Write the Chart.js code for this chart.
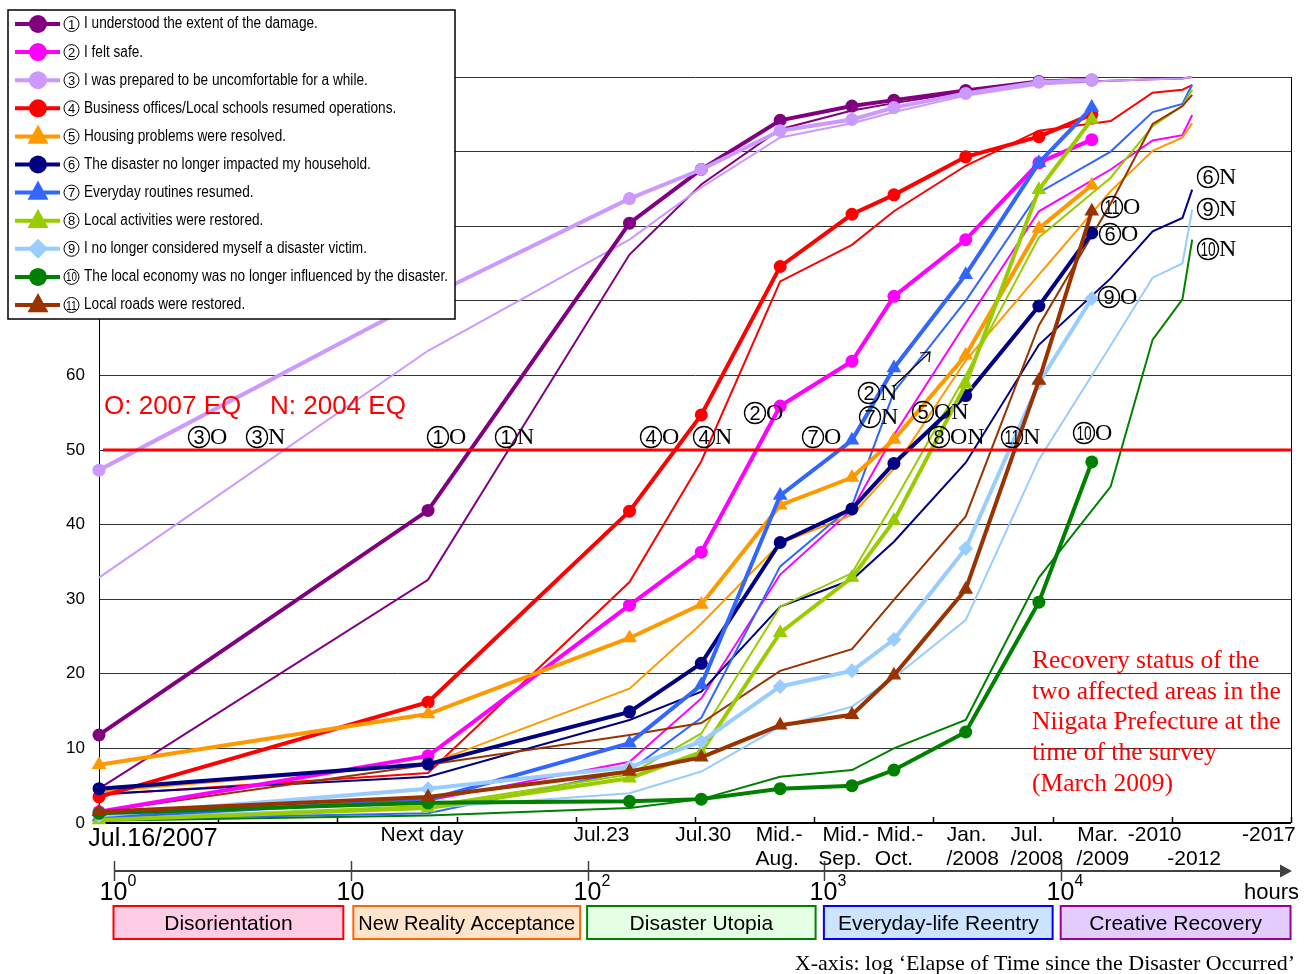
<!DOCTYPE html>
<html><head><meta charset="utf-8">
<script src="https://cdn.jsdelivr.net/npm/chart.js@4.4.1/dist/chart.umd.min.js"></script>
<style>html,body{margin:0;padding:0;background:#fff;}#wrap{width:1310px;height:974px;position:relative;}</style>
</head><body><div id="wrap"><canvas id="c" width="1310" height="974"></canvas></div>
<script>
// ---- time points (hours since the disaster) ----
const hoursO = [1, 24, 168, 336, 720, 1440, 2160, 4320, 8760, 14600];
const hoursN = [1, 24, 168, 336, 720, 1440, 2160, 4320, 8760, 17520, 26280, 35040, 38500];

// ---- items ----
const itemNums = [1,2,3,4,5,6,7,8,9,10,11];
const itemNames = [
  'I understood the extent of the damage.',
  'I felt safe.',
  'I was prepared to be uncomfortable for a while.',
  'Business offices/Local schools resumed operations.',
  'Housing problems were resolved.',
  'The disaster no longer impacted my household.',
  'Everyday routines resumed.',
  'Local activities were restored.',
  'I no longer considered myself a disaster victim.',
  'The local economy was no longer influenced by the disaster.',
  'Local roads were restored.'
];

// ---- O: 2007 EQ (%), N: 2004 EQ (%) ----
const item1O  = [11.8, 41.9, 80.4, 87.6, 94.2, 96.1, 96.9, 98.2, 99.4, 99.6];
const item1N  = [4.6, 32.6, 76.2, 85.6, 93.0, 95.5, 96.5, 98.0, 99.2, 99.5, 99.7, 99.8, 100];
const item2O  = [1.5, 9.0, 29.2, 36.3, 55.9, 61.9, 70.6, 78.2, 88.5, 91.6];
const item2N  = [1.0, 3.0, 8.2, 16.7, 33.3, 42.0, 52.0, 67.0, 82.0, 87.6, 91.5, 92.2, 94.9];
const item3O  = [47.3, 70.5, 83.7, 87.6, 92.8, 94.3, 95.9, 97.8, 99.3, 99.6];
const item3N  = [32.9, 63.3, 78.2, 85.2, 91.9, 93.8, 95.3, 97.5, 99.0, 99.5, 99.7, 99.8, 100];
const item4O  = [3.5, 16.2, 41.8, 54.7, 74.6, 81.6, 84.2, 89.3, 92.0, 95.0];
const item4N  = [3.8, 6.7, 32.3, 48.5, 72.6, 77.5, 82.0, 88.1, 92.8, 94.1, 97.9, 98.3, 98.9];
const item5O  = [7.8, 14.6, 24.8, 29.3, 42.6, 46.3, 51.4, 62.7, 79.7, 85.5];
const item5N  = [4.2, 7.9, 18.0, 26.7, 37.5, 41.3, 47.5, 62.0, 73.5, 84.7, 90.1, 91.9, 93.8];
const item6O  = [4.6, 7.9, 14.9, 21.4, 37.6, 42.1, 48.2, 57.3, 69.3, 79.1];
const item6N  = [3.9, 6.2, 13.8, 17.6, 29.0, 32.6, 37.7, 48.3, 64.1, 73.0, 79.3, 81.1, 84.9];
const item7O  = [0.8, 3.1, 10.7, 18.5, 43.9, 51.3, 61.0, 73.5, 88.5, 95.9];
const item7N  = [0.5, 1.3, 7.0, 14.1, 34.4, 42.5, 57.8, 70.0, 84.5, 90.0, 95.3, 96.4, 99.0];
const item8O  = [0.4, 2.0, 6.0, 9.5, 25.5, 32.9, 40.5, 58.8, 84.9, 94.3];
const item8N  = [0.5, 2.3, 6.5, 12.0, 29.0, 33.5, 43.0, 60.0, 78.5, 86.5, 93.4, 96.1, 98.3];
const item9O  = [1.0, 4.6, 7.5, 10.9, 18.3, 20.4, 24.6, 36.8, 59.0, 70.3];
const item9N  = [0.8, 2.0, 4.0, 6.9, 12.9, 15.6, 19.5, 27.2, 48.7, 64.0, 73.1, 75.0, 82.2];
const item10O = [1.3, 2.7, 2.9, 3.2, 4.6, 5.0, 7.1, 12.2, 29.6, 48.4];
const item10N = [0.3, 1.0, 2.0, 3.2, 6.2, 7.1, 10.0, 13.8, 32.9, 45.1, 64.8, 70.2, 78.2];
const item11O = [1.5, 3.5, 6.9, 8.8, 13.1, 14.5, 19.8, 31.3, 59.3, 82.0];
const item11N = [1.5, 7.8, 11.8, 13.4, 20.4, 23.3, 29.9, 41.1, 66.7, 83.0, 93.7, 96.1, 97.6];

// ---- axis / label texts ----
const yTickStep = 10;
const dateLabels = [['Jul.16/2007'],['Next day'],['Jul.23'],['Jul.30'],['Mid.-','Aug.'],['Mid.-','Sep.'],['Mid.-','Oct.'],['Jan.','/2008'],['Jul.','/2008'],['Mar.','/2009'],['-2010'],['','-2012'],['-2017']];
const dateLabelHours = [1, 24, 168, 336, 720, 1440, 2160, 4320, 8760, 14600, 26280, 38500, 80000];
const logTickValues = [1, 10, 100, 1000, 10000];
const logTickExp = ['0', '', '2', '3', '4'];
const phaseNames = ['Disorientation','New Reality Acceptance','Disaster Utopia','Everyday-life Reentry','Creative Recovery'];
const phaseHours = [[1, 9.3], [10.3, 93], [100, 918], [1000, 9200], [10000, 93000]];

// ---- styles ----
const colors = ['#800080','#ff00ff','#cc99ff','#ff0000','#ff9900','#000080','#3366ff','#99cc00','#99ccff','#008000','#993300'];
const marks  = ['circle','circle','circle','circle','triangle','circle','triangle','triangle','rectRot','circle','triangle'];
const phaseFill = ['#ffcce5','#ffe4cc','#e5ffe5','#cce4ff','#e5ccff'];
const phaseLine = ['#ff0000','#ff6600','#008000','#0000ff','#990099'];

const seriesO = [item1O,item2O,item3O,item4O,item5O,item6O,item7O,item8O,item9O,item10O,item11O];
const seriesN = [item1N,item2N,item3N,item4N,item5N,item6N,item7N,item8N,item9N,item10N,item11N];

const datasets = [];
for (let i = 10; i >= 0; i--) {
  const r = marks[i] === 'circle' ? 6.5 : (marks[i] === 'triangle' ? 8.5 : 7.5);
  datasets.push({
    label: itemNums[i] + 'O', data: hoursO.map((h, j) => ({x: h, y: seriesO[i][j]})),
    borderColor: colors[i], backgroundColor: colors[i], borderWidth: 4,
    pointStyle: marks[i], pointRadius: r, pointBackgroundColor: colors[i], pointBorderWidth: 0,
    tension: 0, clip: false
  });
}
for (let i = 10; i >= 0; i--) {
  datasets.push({
    label: itemNums[i] + 'N', data: hoursN.map((h, j) => ({x: h, y: seriesN[i][j]})),
    borderColor: colors[i], backgroundColor: colors[i], borderWidth: 2,
    pointRadius: 0, tension: 0, clip: false
  });
}

const SANS = '"Liberation Sans", Arial, sans-serif';
const SERIF = '"Liberation Serif", "Times New Roman", serif';

function txt(c, s, x, y, font, color, align, base) {
  c.font = font; c.fillStyle = color; c.textAlign = align || 'left'; c.textBaseline = base || 'middle';
  c.fillText(s, x, y);
}
// circled number drawn as circle + numeral
function circled(c, n, cx, cy, r, lw, fontPx, color) {
  c.save();
  c.strokeStyle = color; c.lineWidth = lw;
  c.beginPath(); c.arc(cx, cy, r, 0, Math.PI * 2); c.stroke();
  c.font = fontPx + 'px ' + SANS; c.fillStyle = color; c.textAlign = 'center'; c.textBaseline = 'middle';
  const s = String(n);
  const w = c.measureText(s).width, maxW = r * 1.45;
  c.translate(cx, cy + 1);
  if (w > maxW) c.scale(maxW / w, 1);
  c.fillText(s, 0, 0);
  c.restore();
}
function tag(c, n, rest, x, y) {
  circled(c, n, x + 11, y, 10.5, 1.3, 20, '#000');
  txt(c, rest, x + 22, y + 1, '24px ' + SERIF, '#000');
}
function marker(c, style, x, y, r, color) {
  c.fillStyle = color; c.beginPath();
  if (style === 'circle') { c.arc(x, y, r, 0, Math.PI * 2); }
  else if (style === 'triangle') {
    c.moveTo(x, y - r); c.lineTo(x + r * 0.95, y + r * 0.75); c.lineTo(x - r * 0.95, y + r * 0.75); c.closePath();
  } else {
    c.moveTo(x, y - r); c.lineTo(x + r, y); c.lineTo(x, y + r); c.lineTo(x - r, y); c.closePath();
  }
  c.fill();
}

const deco = {
  id: 'deco',
  beforeDraw(chart) {
    const c = chart.ctx; c.save(); c.fillStyle = '#fff'; c.fillRect(0, 0, chart.width, chart.height); c.restore();
  },
  beforeDatasetsDraw(chart) {
    const c = chart.ctx, a = chart.chartArea, xs = chart.scales.x;
    c.save();
    c.strokeStyle = '#000'; c.lineWidth = 1;
    c.beginPath(); c.moveTo(a.right + 0.5, a.top); c.lineTo(a.right + 0.5, a.bottom); c.stroke();
    c.lineWidth = 1.5;
    for (let k = 1; k <= 10; k++) {
      const px = Math.round(xs.getPixelForValue(Math.pow(10, k / 2))) + 0.5;
      c.beginPath(); c.moveTo(px, a.bottom); c.lineTo(px, a.bottom - 6); c.stroke();
    }
    c.lineWidth = 2;
    c.beginPath(); c.moveTo(a.left, a.bottom); c.lineTo(a.right, a.bottom); c.stroke();
    c.restore();
  },
  afterDatasetsDraw(chart) {
    const c = chart.ctx, a = chart.chartArea, ys = chart.scales.y;
    c.save();
    const y50 = ys.getPixelForValue(50);
    c.strokeStyle = '#ff0000'; c.lineWidth = 3;
    c.beginPath(); c.moveTo(a.left + 4, y50); c.lineTo(a.right, y50); c.stroke();
    c.restore();
  },
  afterDraw(chart) {
    const c = chart.ctx, a = chart.chartArea, xs = chart.scales.x;
    c.save();
    // annotations
    txt(c, 'O: 2007 EQ', 104, 407, '26px ' + SANS, '#ff0000');
    txt(c, 'N: 2004 EQ', 270, 407, '26px ' + SANS, '#ff0000');
    const tags = [
      [3,'O',188,437],[3,'N',246,437],[1,'O',427,437],[1,'N',495,437],[4,'O',640,437],[4,'N',693,437],
      [2,'O',744,413],[7,'O',802,437],[2,'N',858,393],[7,'N',859,417],[5,'ON',912,412],[8,'ON',928,437],
      [11,'N',1001,437],[10,'O',1073,433],[9,'O',1098,297],[11,'O',1101,207],[6,'O',1099,234],
      [6,'N',1197,177],[9,'N',1197,209],[10,'N',1197,249]
    ];
    tags.forEach(t => tag(c, t[0], t[1], t[2], t[3]));
    // arrow
    c.strokeStyle = '#000'; c.lineWidth = 1.2;
    c.beginPath(); c.moveTo(893, 387); c.lineTo(930, 352); c.stroke();
    c.beginPath(); c.moveTo(920, 353); c.lineTo(930, 352); c.lineTo(929, 362); c.stroke();
    // red text block
    const para = ['Recovery status of the','two affected areas in the','Niigata Prefecture at the','time of the survey','(March 2009)'];
    para.forEach((s, i) => txt(c, s, 1032, 661 + i * 30.8, '25.5px ' + SERIF, '#ff0000'));

    // date labels under the plot
    const offs = [[54],[-6],[-28],[2],[-1,-3],[-6,-12],[6,0],[1,7],[-12,-2],[6,11],[2],[2,2],[1]];
    dateLabels.forEach((lines, i) => {
      const px = xs.getPixelForValue(dateLabelHours[i]);
      lines.forEach((s, j) => {
        if (!s) return;
        const f = i === 0 ? '25px ' + SANS : '21px ' + SANS;
        const y = i === 0 ? 839 : 835 + j * 24;
        txt(c, s, px + offs[i][j], y, f, '#000', 'center');
      });
    });

    // log axis (hours)
    const bx = v => a.left + 15 + Math.log10(v) * 236.8;
    const ay = 871;
    c.strokeStyle = '#404040'; c.fillStyle = '#404040'; c.lineWidth = 2;
    c.beginPath(); c.moveTo(bx(1), ay); c.lineTo(1280, ay); c.stroke();
    c.beginPath(); c.moveTo(1280, ay - 6.5); c.lineTo(1292, ay); c.lineTo(1280, ay + 6.5); c.closePath(); c.fill();
    c.lineWidth = 1.5;
    logTickValues.forEach((v, i) => {
      const px = Math.round(bx(v)) + 0.5;
      c.beginPath(); c.moveTo(px, ay - 10); c.lineTo(px, ay + 10); c.stroke();
      txt(c, '10', px - 1, 893, '25px ' + SANS, '#000', 'center');
      if (logTickExp[i]) txt(c, logTickExp[i], px + 13, 882, '16px ' + SANS, '#000', 'left');
    });
    txt(c, 'hours', 1299, 893, '22px ' + SANS, '#000', 'right');

    // phase boxes
    phaseNames.forEach((s, i) => {
      const x0 = bx(phaseHours[i][0]) - 0.5, x1 = bx(phaseHours[i][1]);
      c.fillStyle = phaseFill[i]; c.fillRect(x0, 906, x1 - x0, 33);
      c.strokeStyle = phaseLine[i]; c.lineWidth = 2; c.strokeRect(x0, 906, x1 - x0, 33);
      txt(c, s, (x0 + x1) / 2, 924, (i === 1 ? '20px ' : '21px ') + SANS, '#000', 'center');
    });
    txt(c, 'X-axis: log \u2018Elapse of Time since the Disaster Occurred\u2019', 1295, 964, '22px ' + SERIF, '#000', 'right');

    // legend
    c.fillStyle = '#fff'; c.fillRect(8, 10, 447, 309);
    c.strokeStyle = '#000'; c.lineWidth = 1.5; c.strokeRect(8, 10, 447, 309);
    const lf = '16px "Liberation Sans Narrow", ' + SANS;
    c.font = lf;
    const sc = 364 / c.measureText(itemNames[9]).width;
    for (let i = 0; i < 11; i++) {
      const y = 24 + i * 28.1;
      c.strokeStyle = colors[i]; c.lineWidth = 4;
      c.beginPath(); c.moveTo(15, y); c.lineTo(60, y); c.stroke();
      const r = marks[i] === 'circle' ? 9 : (marks[i] === 'triangle' ? 11 : 10);
      marker(c, marks[i], 38, y + (marks[i] === 'triangle' ? -1 : 0), r, colors[i]);
      circled(c, itemNums[i], 71.5, y, 7.5, 1, 13, '#000');
      c.save(); c.translate(84, y); c.scale(sc, 1);
      txt(c, itemNames[i], 0, 0, lf, '#000');
      c.restore();
    }
    c.restore();
  }
};

new Chart(document.getElementById('c'), {
  type: 'line',
  data: { datasets },
  options: {
    responsive: false, animation: false, devicePixelRatio: 1,
    layout: { padding: { left: 0, top: 77, right: 19, bottom: 151 } },
    plugins: { legend: { display: false }, tooltip: { enabled: false } },
    scales: {
      x: { type: 'logarithmic', min: 1, max: 100000, display: false },
      y: {
        min: 0, max: 100,
        ticks: { stepSize: yTickStep, color: '#000', font: { family: '"Liberation Sans", Arial', size: 17 }, padding: 14 },
        grid: { color: '#333', lineWidth: 1, drawTicks: false },
        border: { color: '#000', width: 1 },
        afterFit(s) { s.width = 99; }
      }
    }
  },
  plugins: [deco]
});
</script></body></html>
